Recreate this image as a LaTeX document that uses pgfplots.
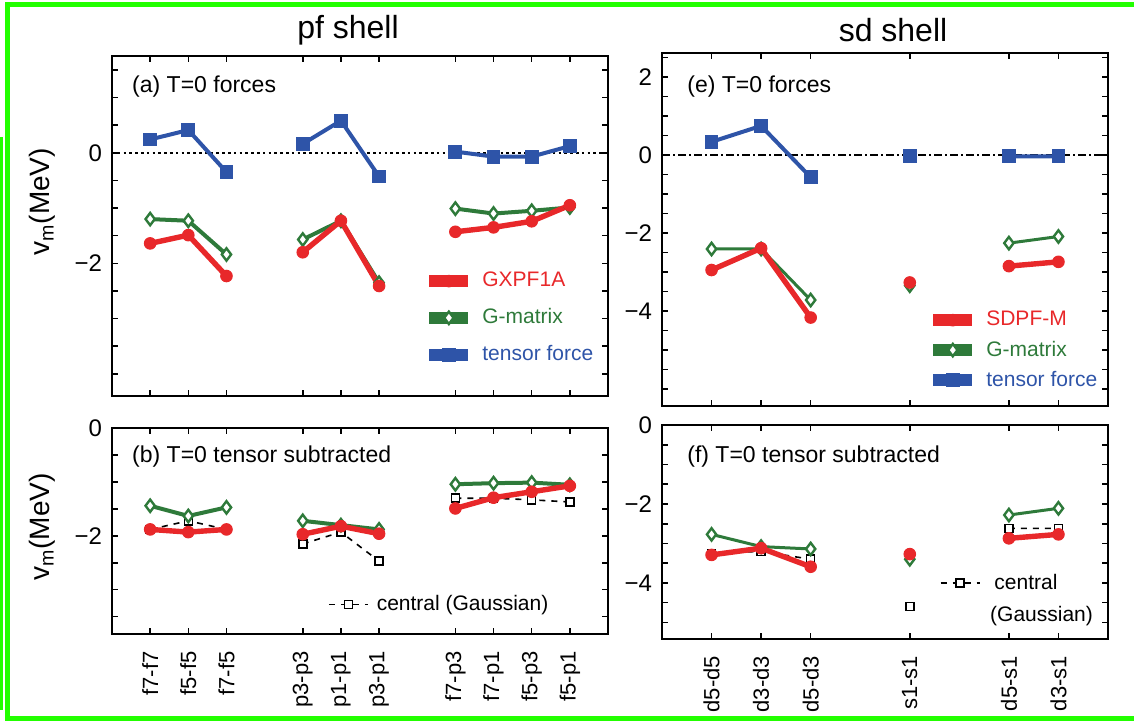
\documentclass[border=0pt]{standalone}
\usepackage{pgfplots}
\pgfplotsset{compat=1.18}
\usepackage{fontspec}
\setmainfont{Liberation Sans}
\definecolor{cred}{RGB}{232,40,42}
\definecolor{cgreen}{RGB}{46,122,58}
\definecolor{cblue}{RGB}{46,84,168}
\definecolor{cframe}{RGB}{34,255,0}
\pgfplotsset{
  panel/.style={
    scale only axis,
    axis line style={line width=1.1pt},
    every tick/.style={black, line width=0.8pt},
    major tick length=3pt, minor tick length=3pt,
    tick align=inside,
    unbounded coords=jump,
    /pgf/number format/assume math mode=true,
    yticklabel style={font=\fontsize{12}{12}\selectfont},
    xticklabel style={rotate=90, anchor=east, font=\fontsize{11}{11}\selectfont},
    xticklabel shift=5pt,
    yticklabel shift=1.5pt,
    legend cell align=left,
  },
  redS/.style={cred, line width=2.7pt, mark=*, mark size=2.9pt, mark options={solid, fill=cred, draw=cred, line width=0.5pt}},
  greenS/.style={cgreen, line width=2pt, mark=diamond*, mark size=3.1pt, mark options={solid, fill=white, draw=cgreen, line width=1.2pt}},
  blueS/.style={cblue, line width=2pt, mark=square*, mark size=3.2pt, mark options={solid, fill=cblue, draw=cblue, line width=0.5pt}},
  centS/.style={black, line width=0.8pt, dash pattern=on 3pt off 3pt, mark=square*, mark size=2pt, mark options={solid, fill=white, draw=black, line width=0.8pt}},
  thicklegend/.style={legend image code/.code={
      \draw[##1, mark=none, line width=6pt] (0pt,0pt) -- (19.5pt,0pt);
      \draw[##1] plot coordinates {(9.75pt,0pt)};
  }},
  thinlegend/.style={legend image code/.code={
      \draw[mark repeat=2, mark phase=2, ##1] plot coordinates {(0pt,0pt) (9.75pt,0pt) (19.5pt,0pt)};
  }},
}
\begin{document}
\begin{tikzpicture}
\path[use as bounding box] (0pt,0pt) rectangle (567pt,-360.5pt);
% frame
\draw[cframe, line width=2.5pt] (2.5pt,-2.5pt) -- (567pt,-2.5pt);
\draw[cframe, line width=2.5pt] (3.75pt,-1.25pt) -- (3.75pt,-360.5pt);
\draw[cframe, line width=2.5pt] (2.5pt,-359.25pt) -- (567pt,-359.25pt);
\draw[cframe, line width=1.5pt] (0.75pt,-68.5pt) -- (0.75pt,-355pt);
% titles
\node[font=\fontsize{16}{16}\selectfont] at (174pt,-15pt) {pf shell};
\node[font=\fontsize{16}{16}\selectfont] at (446.5pt,-15pt) {sd shell};

% (a)
\begin{axis}[panel, thicklegend, at={(56pt,-198pt)}, anchor=south west, width=248pt, height=170pt,
  xmin=-1, xmax=12, ymin=-4.40, ymax=1.75,
  xtick={0,1,2,4,5,6,8,9,10,11}, xticklabels={},
  ytick={-2,0}, yticklabels={−2,0},
  minor ytick={-4,-3.5,-3,-2.5,-1.5,-1,-0.5,0.5,1,1.5},
  ylabel={v\textsubscript{m}(MeV)},
  ylabel style={at={(axis description cs:-0.141,0.571)}, anchor=center, font=\fontsize{14}{14}\selectfont},
  reverse legend,
  legend style={at={(axis description cs:0.627,0.371)}, anchor=north west, draw=none, fill=none, inner sep=0pt, row sep=7.4pt, column sep=3pt, font=\fontsize{10.5}{10.5}\selectfont, nodes={inner sep=1pt}},
]
\addplot[black, line width=1.1pt, dash pattern=on 1.3pt off 1.6pt, forget plot] coordinates {(-1,0) (12,0)};
\addplot[blueS] coordinates {(0,0.24)(1,0.41)(2,-0.35)(3,nan)(4,0.16)(5,0.58)(6,-0.43)(7,nan)(8,0.02)(9,-0.07)(10,-0.07)(11,0.12)};
\addlegendentry{\textcolor{cblue}{tensor force}}
\addplot[greenS] coordinates {(0,-1.20)(1,-1.23)(2,-1.84)(3,nan)(4,-1.57)(5,-1.23)(6,-2.35)(7,nan)(8,-1.01)(9,-1.10)(10,-1.05)(11,-0.99)};
\addlegendentry{\textcolor{cgreen}{G-matrix}}
\addplot[redS] coordinates {(0,-1.64)(1,-1.49)(2,-2.23)(3,nan)(4,-1.80)(5,-1.23)(6,-2.41)(7,nan)(8,-1.43)(9,-1.35)(10,-1.24)(11,-0.95)};
\addlegendentry{\textcolor{cred}{GXPF1A}}
\node[anchor=west, inner sep=0pt, font=\fontsize{11.5}{11.5}\selectfont] at (rel axis cs:0.040,0.910) {(a) T=0 forces};
\end{axis}

% (b)
\begin{axis}[panel, thinlegend, at={(56pt,-317.15pt)}, anchor=south west, width=248pt, height=103pt,
  xmin=-1, xmax=12, ymin=-3.83, ymax=0,
  xtick={0,1,2,4,5,6,8,9,10,11},
  xticklabels={f7-f7,f5-f5,f7-f5,p3-p3,p1-p1,p3-p1,f7-p3,f7-p1,f5-p3,f5-p1},
  ytick={-2,0}, yticklabels={−2,0},
  minor ytick={-3.5,-3,-2.5,-1.5,-1,-0.5},
  ylabel={v\textsubscript{m}(MeV)},
  ylabel style={at={(axis description cs:-0.141,0.521)}, anchor=center, font=\fontsize{14}{14}\selectfont},
  legend style={at={(axis description cs:0.435,0.2)}, anchor=north west, draw=none, fill=none, inner sep=0pt, column sep=3pt, font=\fontsize{10.5}{10.5}\selectfont, nodes={inner sep=1pt}},
]
\addplot[centS] coordinates {(0,-1.88)(1,-1.72)(2,-1.88)(3,nan)(4,-2.15)(5,-1.93)(6,-2.47)(7,nan)(8,-1.30)(9,-1.30)(10,-1.33)(11,-1.37)};
\addlegendentry{central (Gaussian)}
\addplot[greenS, forget plot] coordinates {(0,-1.44)(1,-1.63)(2,-1.47)(3,nan)(4,-1.72)(5,-1.80)(6,-1.88)(7,nan)(8,-1.04)(9,-1.02)(10,-1.01)(11,-1.05)};
\addplot[redS, forget plot] coordinates {(0,-1.88)(1,-1.93)(2,-1.88)(3,nan)(4,-1.97)(5,-1.82)(6,-1.96)(7,nan)(8,-1.49)(9,-1.29)(10,-1.18)(11,-1.07)};
\node[anchor=west, inner sep=0pt, font=\fontsize{11.5}{11.5}\selectfont] at (rel axis cs:0.040,0.862) {(b) T=0 tensor subtracted};
\end{axis}

% (e)
\begin{axis}[panel, thicklegend, at={(331pt,-203pt)}, anchor=south west, width=223pt, height=176.5pt,
  xmin=-1, xmax=8, ymin=-6.44, ymax=2.62,
  xtick={0,1,2,4,6,7}, xticklabels={},
  ytick={-4,-2,0,2}, yticklabels={−4,−2,0,2},
  minor ytick={-6,-5.5,-5,-4.5,-3.5,-3,-2.5,-1.5,-1,-0.5,0.5,1,1.5,2.5},
  reverse legend,
  legend style={at={(axis description cs:0.594,0.275)}, anchor=north west, draw=none, fill=none, inner sep=0pt, row sep=4pt, column sep=3pt, font=\fontsize{10.5}{10.5}\selectfont, nodes={inner sep=1pt}},
]
\addplot[black, line width=0.9pt, dash pattern=on 4pt off 1.5pt on 1pt off 1.5pt, forget plot] coordinates {(-1,0) (8,0)};
\addplot[blueS] coordinates {(0,0.34)(1,0.75)(2,-0.57)(3,nan)(4,-0.03)(5,nan)(6,-0.03)(7,-0.03)};
\addlegendentry{\textcolor{cblue}{tensor force}}
\addplot[greenS, line width=1.5pt] coordinates {(0,-2.41)(1,-2.41)(2,-3.72)(3,nan)(4,-3.35)(5,nan)(6,-2.26)(7,-2.09)};
\addlegendentry{\textcolor{cgreen}{G-matrix}}
\addplot[redS] coordinates {(0,-2.95)(1,-2.39)(2,-4.17)(3,nan)(4,-3.27)(5,nan)(6,-2.85)(7,-2.74)};
\addlegendentry{\textcolor{cred}{SDPF-M}}
\node[anchor=west, inner sep=0pt, font=\fontsize{11.5}{11.5}\selectfont] at (rel axis cs:0.056,0.905) {(e) T=0 forces};
\end{axis}

% (f)
\begin{axis}[panel, thinlegend, at={(331pt,-319.5pt)}, anchor=south west, width=223pt, height=107pt,
  xmin=-1, xmax=8, ymin=-5.42, ymax=0,
  xtick={0,1,2,4,6,7}, xticklabels={d5-d5,d3-d3,d5-d3,s1-s1,d5-s1,d3-s1},
  ytick={-4,-2,0}, yticklabels={−4,−2,0},
  minor ytick={-5,-4.5,-3.5,-3,-2.5,-1.5,-1,-0.5},
  legend style={at={(axis description cs:0.622,0.315)}, anchor=north west, draw=none, fill=none, inner sep=0pt, column sep=6pt, font=\fontsize{10.5}{10.5}\selectfont, nodes={inner sep=1pt}},
]
\addplot[centS] coordinates {(0,-3.25)(1,-3.20)(2,-3.40)(3,nan)(4,-4.60)(5,nan)(6,-2.62)(7,-2.62)};
\addlegendentry{central}
\addplot[greenS, line width=1.5pt, forget plot] coordinates {(0,-2.77)(1,-3.08)(2,-3.14)(3,nan)(4,-3.40)(5,nan)(6,-2.28)(7,-2.11)};
\addplot[redS, forget plot] coordinates {(0,-3.29)(1,-3.12)(2,-3.59)(3,nan)(4,-3.27)(5,nan)(6,-2.87)(7,-2.77)};
\node[anchor=west, inner sep=0pt, font=\fontsize{11.5}{11.5}\selectfont] at (rel axis cs:0.056,0.852) {(f) T=0 tensor subtracted};
\node[anchor=west, inner sep=0pt, font=\fontsize{10.5}{10.5}\selectfont] at (rel axis cs:0.735,0.105) {(Gaussian)};
\end{axis}
\end{tikzpicture}
\end{document}
